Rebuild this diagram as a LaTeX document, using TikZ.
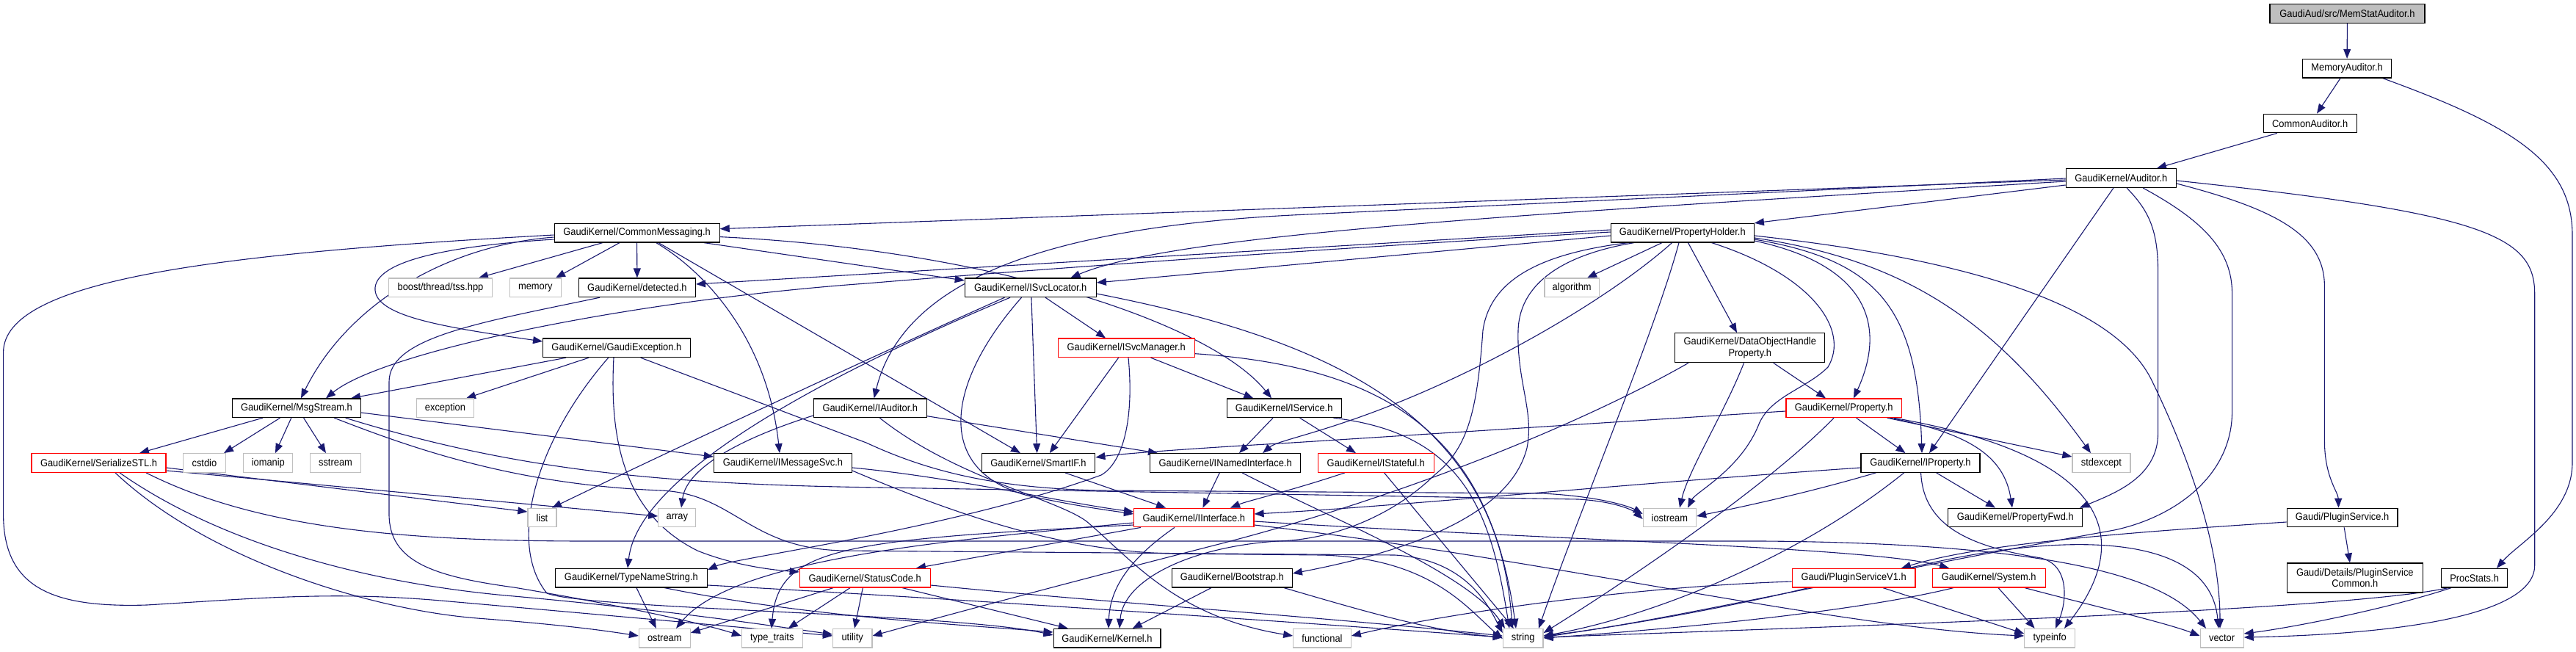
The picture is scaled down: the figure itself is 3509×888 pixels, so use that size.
\documentclass[tikz,border=0pt]{standalone}
\usepackage{fontspec}
\setmainfont{Liberation Sans}[FakeStretch=0.92]
\usetikzlibrary{arrows.meta,calc}
\definecolor{eblue}{HTML}{191970}
\definecolor{ggray}{HTML}{BFBFBF}
\definecolor{rred}{HTML}{FF0000}
\pgfdeclarelayer{bg}
\pgfsetlayers{bg,main}
\tikzset{
  nb/.style={draw=black, line width=0.6pt, rectangle, inner sep=0pt, minimum height=12.8pt, align=center, font=\fontsize{7}{7.8}\selectfont, fill=white},
  nr/.style={nb, draw=rred},
  ng/.style={nb, draw=ggray},
  nroot/.style={nb, fill=ggray},
  e/.style={draw=eblue, line width=0.55pt, -{Triangle[length=6.5pt,width=5pt]}},
}
\newcommand\bx[6]{\node[#1, minimum width=#5*0.5pt] (#2) at (#3,#4) {#6};}
\begin{document}
\begin{tikzpicture}[x=0.5pt,y=-0.5pt]
\useasboundingbox (0,0) rectangle (3509,888);
% nodes
\bx{nroot}{n0}{3197.4}{18.5}{211}{GaudiAud/src/MemStatAuditor.h}
\bx{nb}{memaud}{3197.1}{93.2}{121}{MemoryAuditor.h}
\bx{nb}{comaud}{3146.6}{168}{127}{CommonAuditor.h}
\bx{nb}{aud}{2889.3}{242.5}{150}{GaudiKernel/Auditor.h}
\bx{nb}{cmsg}{867.6}{317.2}{225}{GaudiKernel/CommonMessaging.h}
\bx{nb}{ph}{2291.8}{317.2}{195}{GaudiKernel/PropertyHolder.h}
\bx{ng}{boost}{600}{391.8}{141.5}{boost/thread/tss.hpp}
\bx{ng}{memory}{729.3}{391.8}{70}{memory}
\bx{nb}{detected}{867.9}{391.8}{159}{GaudiKernel/detected.h}
\bx{nb}{isvcloc}{1403.8}{391.8}{179}{GaudiKernel/ISvcLocator.h}
\bx{ng}{algorithm}{2141.2}{391.8}{74.6}{algorithm}
\bx{nb}{gexc}{839.9}{473.8}{200.5}{GaudiKernel/GaudiException.h}
\bx{nr}{isvcmgr}{1534.2}{473.8}{186}{GaudiKernel/ISvcManager.h}
\node[nb, minimum width=204*0.5pt, minimum height=20pt] (dohp) at (2383.8,473.7) {GaudiKernel/DataObjectHandle\\Property.h};
\bx{nb}{msg}{403.9}{555.8}{175}{GaudiKernel/MsgStream.h}
\bx{ng}{exception}{606.5}{555.8}{78.7}{exception}
\bx{nb}{iaud}{1185.3}{555.8}{154}{GaudiKernel/IAuditor.h}
\bx{nb}{isvc}{1749.2}{555.8}{156}{GaudiKernel/IService.h}
\bx{nr}{prop}{2511.7}{555.8}{157.6}{GaudiKernel/Property.h}
\bx{nr}{ser}{134.5}{630.5}{183}{GaudiKernel/SerializeSTL.h}
\bx{ng}{cstdio}{278.4}{630.5}{57.8}{cstdio}
\bx{ng}{iomanip}{365.3}{630.5}{67}{iomanip}
\bx{ng}{sstream}{457}{630.5}{69.3}{sstream}
\bx{nb}{imsg}{1066.4}{630.5}{188}{GaudiKernel/IMessageSvc.h}
\bx{nb}{smartif}{1414.5}{630.5}{154.6}{GaudiKernel/SmartIF.h}
\bx{nb}{inamed}{1669.1}{630.5}{205.4}{GaudiKernel/INamedInterface.h}
\bx{nr}{istate}{1874.3}{630.5}{157.6}{GaudiKernel/IStateful.h}
\bx{nb}{iprop}{2616}{630.5}{162}{GaudiKernel/IProperty.h}
\bx{ng}{stdexcept}{2862.4}{630.5}{79}{stdexcept}
\bx{ng}{list}{738.4}{705}{39}{list}
\bx{ng}{array}{922.3}{705}{51}{array}
\bx{nr}{iint}{1626.3}{705}{163.4}{GaudiKernel/IInterface.h}
\bx{ng}{iostream}{2274.4}{705}{72.3}{iostream}
\bx{nb}{pfwd}{2745.2}{705}{183}{GaudiKernel/PropertyFwd.h}
\bx{nb}{plug}{3190.6}{705}{150.7}{Gaudi/PluginService.h}
\bx{nb}{tns}{859.9}{787.2}{207}{GaudiKernel/TypeNameString.h}
\bx{nr}{sc}{1178.2}{787.2}{178}{GaudiKernel/StatusCode.h}
\bx{nb}{boot}{1678.3}{787.2}{164}{GaudiKernel/Bootstrap.h}
\bx{nr}{psv1}{2525.1}{787.2}{167.6}{Gaudi/PluginServiceV1.h}
\bx{nr}{sys}{2709.2}{787.2}{154}{GaudiKernel/System.h}
\bx{nb}{procstats}{3370.6}{787.2}{90.5}{ProcStats.h}
\node[nb, minimum width=185*0.5pt, minimum height=20pt] (pscommon) at (3207.8,787) {Gaudi/Details/PluginService\\Common.h};
\bx{ng}{ostream}{905.3}{869.2}{69.7}{ostream}
\bx{ng}{typetraits}{1051.8}{869.2}{82.6}{type\_traits}
\bx{ng}{utility}{1161.2}{869.2}{53.4}{utility}
\bx{nb}{kernel}{1508}{869.2}{145.8}{GaudiKernel/Kernel.h}
\bx{ng}{functional}{1801}{869.2}{78.5}{functional}
\bx{ng}{string}{2074.7}{869.2}{54.7}{string}
\bx{ng}{typeinfo}{2792.2}{869.2}{68.8}{typeinfo}
\bx{ng}{vector}{3026.6}{869.2}{59}{vector}
% edges
\begin{pgfonlayer}{bg}
\draw[e] (n0.south) -- (memaud.north);
\draw[e] (memaud.south -| 3188,0) -- (comaud.north -| 3156,0);
\draw[e] (memaud.south -| 3245.7,0) .. controls (3420,170) and (3504,220) .. (3504,320) -- (3504,630) .. controls (3504,700) and (3430,740) .. (procstats.north -| 3401,0);
\draw[e] (comaud.south -| 3102,0) -- (aud.north -| 2938,0);
% Auditor
\draw[e] (aud.west |- 0,245) -- (cmsg.east |- 0,311.7);
\draw[e] (aud.west |- 0,252) -- (ph.north east);
\draw[e] (aud.west |- 0,247) .. controls (2100,290) and (1600,318) .. (isvcloc.north -| 1458.5,0);
\draw[e] (aud.west |- 0,243) -- (1760,293) .. controls (1430,310) and (1230,380) .. (iaud.north -| 1190.6,0);
\draw[e] (aud.south -| 2879,0) -- (iprop.north -| 2628,0);
\draw[e] (aud.south -| 2897,0) .. controls (2925,285) and (2939.6,310) .. (2939.6,370) -- (2939.6,590) .. controls (2939.6,650) and (2880,672) .. (pfwd.north -| 2833,0);
\draw[e] (aud.east |- 0,250) .. controls (3100,285) and (3166.4,320) .. (3166.4,390) -- (3166.4,600) .. controls (3166.4,650) and (3185,670) .. (plug.north -| 3185.5,0);
\draw[e] (aud.east |- 0,246) .. controls (3380,290) and (3452.7,320) .. (3452.7,400) -- (3452.7,770) .. controls (3452.7,850) and (3200,865) .. (vector.east |- 0,868);
\draw[e] (aud.south -| 2919,0) .. controls (3000,300) and (3040.6,340) .. (3040.6,400) -- (3040.6,560) .. controls (3040.6,650) and (2960,705) .. (2880,722) .. controls (2500,790) and (2250,850) .. (string.east |- 0,866);
% CommonMessaging
\draw[e] (cmsg.south -| 821,0) -- (boost.north -| 652,0);
\draw[e] (cmsg.south -| 844,0) -- (memory.north -| 757,0);
\draw[e] (cmsg.south) -- (detected.north);
\draw[e] (cmsg.west |- 0,326) .. controls (640,333) and (515,350) .. (511,391.7) .. controls (508,430) and (600,445) .. (gexc.west |- 0,465);
\draw[e] (cmsg.west |- 0,323) .. controls (600,335) and (470,420) .. (msg.north -| 410,0);
\draw[e] (cmsg.west |- 0,320) .. controls (300,345) and (4.6,380) .. (4.6,480) -- (4.6,700) .. controls (4.6,800) and (70,828) .. (200,824) .. controls (350,815) and (450,805) .. (600,818) .. controls (850,840) and (1050,858) .. (utility.west |- 0,866);
\draw[e] (cmsg.south -| 893.8,0) .. controls (960,370) and (1045,460) .. (imsg.north -| 1062,0);
\draw[e] (cmsg.south -| 897,0) -- (smartif.north -| 1390,0);
\draw[e] (cmsg.east |- 0,322.6) .. controls (1350,340) and (1650,440) .. (isvc.north -| 1732,0);
\draw[e] (cmsg.south -| 958.8,0) -- (isvcloc.west |- 0,382);
% PropertyHolder
\draw[e] (ph.west |- 0,313) -- (detected.east |- 0,387);
\draw[e] (ph.west |- 0,321) -- (isvcloc.east |- 0,385);
\draw[e] (ph.west |- 0,316) .. controls (1700,345) and (1350,372) .. (1180,386) .. controls (850,410) and (520,480) .. (msg.north -| 444,0);
\draw[e] (ph.south -| 2264,0) -- (algorithm.north -| 2162,0);
\draw[e] (ph.south -| 2299.5,0) -- (dohp.north -| 2366,0);
\draw[e] (ph.east |- 0,328) .. controls (2540,360) and (2572,440) .. (prop.north -| 2525,0);
\draw[e] (ph.east |- 0,326) .. controls (2560,355) and (2612,420) .. (iprop.north -| 2618,0);
\draw[e] (ph.east |- 0,324) .. controls (2600,355) and (2720,440) .. (stdexcept.north -| 2848,0);
\draw[e] (ph.east |- 0,321) .. controls (2700,355) and (2885,420) .. (2932,520) .. controls (2995,650) and (3024,760) .. (vector.north -| 3024,0);
\draw[e] (ph.south -| 2218,0) .. controls (2100,345) and (2030,380) .. (2020,450) .. controls (2012,560) and (2000,610) .. (1954,647) .. controls (1900,700) and (1820,735) .. (1740,737) .. controls (1620,745) and (1530,790) .. (kernel.north -| 1525,0);
\draw[e] (ph.south -| 2226,0) .. controls (2140,345) and (2070,380) .. (2068,450) .. controls (2066,520) and (2090,560) .. (2080,610) .. controls (2060,690) and (1950,745) .. (boot.east |- 0,781);
\draw[e] (ph.south -| 2277.6,0) .. controls (2200,400) and (2050,490) .. (1900,550) .. controls (1800,590) and (1740,600) .. (inamed.north -| 1720,0);
\draw[e] (ph.south -| 2287,0) .. controls (2255,450) and (2150,700) .. (string.north -| 2096,0);
\draw[e] (ph.south -| 2331.5,0) .. controls (2470,375) and (2520,450) .. (2490,500) .. controls (2460,530) and (2410,540) .. (2395,580) .. controls (2370,640) and (2310,670) .. (iostream.north -| 2299,0);
% DataObjectHandleProperty
\draw[e] (dohp.south -| 2415.7,0) -- (prop.north -| 2487,0);
\draw[e] (dohp.south -| 2375.5,0) .. controls (2350,560) and (2300,640) .. (iostream.north -| 2288,0);
\draw[e] (dohp.south -| 2300,0) .. controls (2150,580) and (1900,680) .. (1653,743) .. controls (1450,795) and (1300,835) .. (utility.east |- 0,866);
% GaudiException
\draw[e] (gexc.south -| 802,0) -- (exception.north -| 635,0);
\draw[e] (gexc.south -| 771,0) -- (msg.north -| 478,0);
\draw[e] (gexc.south -| 836,0) .. controls (830,600) and (850,700) .. (950,750) .. controls (1000,770) and (1050,776) .. (sc.west |- 0,779);
\draw[e] (gexc.south -| 828.7,0) .. controls (730,600) and (690,740) .. (745,808) .. controls (800,830) and (1300,835) .. (kernel.west |- 0,865);
\draw[e] (gexc.south -| 872.7,0) -- (1180,603) .. controls (1260,640) and (1350,665) .. (1500,668) -- (2100,672) .. controls (2180,676) and (2220,690) .. (iostream.west |- 0,700);
% MsgStream
\draw[e] (msg.south -| 357.8,0) -- (ser.north -| 190,0);
\draw[e] (msg.south -| 381.5,0) -- (cstdio.north -| 305,0);
\draw[e] (msg.south -| 396.8,0) -- (iomanip.north -| 375,0);
\draw[e] (msg.south -| 413.6,0) -- (sstream.north -| 444,0);
\draw[e] (msg.east |- 0,562) -- (imsg.west |- 0,622);
\draw[e] (msg.south -| 470.6,0) .. controls (700,640) and (900,660) .. (1200,664) -- (2150,680) .. controls (2200,683) and (2225,695) .. (iostream.west |- 0,707);
\draw[e] (msg.south -| 455.3,0) .. controls (560,610) and (700,660) .. (900,668) .. controls (1000,672) and (1020,748) .. (1150,750) -- (1900,756) .. controls (2000,762) and (2030,830) .. (string.west |- 0,862);
% SerializeSTL
\draw[e] (ser.east |- 0,637) -- (list.west |- 0,697);
\draw[e] (ser.east |- 0,641) -- (array.west |- 0,703);
\draw[e] (ser.south -| 199,0) .. controls (350,720) and (550,737) .. (800,737) -- (2400,737) .. controls (2850,740) and (2960,800) .. (vector.north -| 3005,0);
\draw[e] (ser.south -| 163,0) .. controls (300,740) and (500,795) .. (700,812) .. controls (900,830) and (1050,852) .. (utility.west |- 0,864);
\draw[e] (ser.south -| 157,0) .. controls (280,760) and (500,830) .. (650,842) .. controls (780,852) and (830,860) .. (ostream.west |- 0,866);
% detected
\draw[e] (detected.south -| 817,0) .. controls (650,440) and (530,460) .. (530,520) -- (530,700) .. controls (530,765) and (590,785) .. (700,800) .. controls (850,825) and (960,850) .. (typetraits.west |- 0,866);
% IMessageSvc
\draw[e] (imsg.east |- 0,637) .. controls (1300,650) and (1450,685) .. (iint.west |- 0,697);
\draw[e] (imsg.east |- 0,641) .. controls (1300,700) and (1450,752) .. (1600,754) -- (1800,756) .. controls (1950,760) and (2000,830) .. (string.west |- 0,870);
% ISvcLocator
\draw[e] (isvcloc.south -| 1368.5,0) .. controls (1200,480) and (900,620) .. (list.north -| 752,0);
\draw[e] (isvcloc.south -| 1376,0) .. controls (1150,500) and (870,640) .. (tns.north -| 855,0);
\draw[e] (isvcloc.south -| 1391.5,0) .. controls (1290,520) and (1270,640) .. (1400,675) .. controls (1470,690) and (1510,695) .. (iint.west |- 0,700);
\draw[e] (isvcloc.south -| 1404.9,0) -- (smartif.north -| 1412.6,0);
\draw[e] (isvcloc.south -| 1424,0) -- (isvcmgr.north -| 1506,0);
\draw[e] (isvcloc.east |- 0,400) .. controls (1800,460) and (2040,560) .. (string.north -| 2060,0);
% ISvcManager
\draw[e] (isvcmgr.south -| 1523.6,0) -- (smartif.north -| 1429.8,0);
\draw[e] (isvcmgr.south -| 1567.6,0) -- (isvc.north -| 1707.3,0);
\draw[e] (isvcmgr.south -| 1537,0) .. controls (1545,570) and (1530,630) .. (1500,647) .. controls (1300,720) and (1000,760) .. (tns.east |- 0,776);
\draw[e] (isvcmgr.east |- 0,481.7) .. controls (1900,500) and (2030,600) .. (string.north -| 2065,0);
% IAuditor
\draw[e] (iaud.east |- 0,566.7) -- (inamed.north -| 1577,0);
\draw[e] (iaud.west |- 0,566) .. controls (1000,600) and (935,640) .. (array.north -| 928,0);
\draw[e] (iaud.south -| 1198.3,0) .. controls (1300,650) and (1440,680) .. (1480,710) .. controls (1540,760) and (1600,840) .. (functional.west |- 0,866);
% IService
\draw[e] (isvc.south -| 1734,0) -- (inamed.north -| 1688,0);
\draw[e] (isvc.south -| 1770.6,0) -- (istate.north -| 1847,0);
\draw[e] (isvc.south -| 1816.5,0) .. controls (1990,590) and (2030,690) .. (string.north -| 2056,0);
% SmartIF / INamedInterface / IStateful
\draw[e] (smartif.south -| 1450.8,0) -- (iint.north -| 1588,0);
\draw[e] (inamed.south -| 1661.3,0) -- (iint.north -| 1638.4,0);
\draw[e] (inamed.south -| 1692,0) .. controls (1800,700) and (2000,780) .. (string.north -| 2050,0);
\draw[e] (istate.south -| 1831.8,0) .. controls (1760,668) and (1700,682) .. (iint.north -| 1676,0);
\draw[e] (istate.south -| 1885.5,0) -- (string.north -| 2062,0);
% IInterface
\draw[e] (iint.south -| 1600,0) .. controls (1540,760) and (1512,800) .. (kernel.north -| 1510,0);
\draw[e] (iint.south -| 1554,0) -- (sc.north -| 1248,0);
\draw[e] (iint.west |- 0,712) .. controls (1300,735) and (1000,760) .. (ostream.north -| 921,0);
\draw[e] (iint.west |- 0,715) .. controls (1150,735) and (1060,745) .. (typetraits.north -| 1051,0);
\draw[e] (iint.east |- 0,710) .. controls (2100,735) and (2550,745) .. (sys.north -| 2655,0);
\draw[e] (iint.east |- 0,715) .. controls (2100,760) and (2500,855) .. (typeinfo.west |- 0,866);
% StatusCode
\draw[e] (sc.south -| 1175.3,0) -- (utility.north -| 1164,0);
\draw[e] (sc.south -| 1229,0) -- (kernel.north -| 1454.7,0);
\draw[e] (sc.south -| 1135,0) -- (ostream.east |- 0,862);
\draw[e] (sc.south -| 1158,0) -- (typetraits.north -| 1073.7,0);
\draw[e] (sc.east |- 0,797) .. controls (1500,820) and (1800,840) .. (string.west |- 0,866);
% TypeNameString
\draw[e] (tns.south -| 867,0) -- (ostream.north -| 893.8,0);
\draw[e] (tns.south -| 905.3,0) .. controls (1100,840) and (1300,850) .. (kernel.west |- 0,861);
\draw[e] (tns.east |- 0,797) .. controls (1300,815) and (1800,850) .. (string.west |- 0,868);
% Bootstrap
\draw[e] (boot.south -| 1650,0) -- (kernel.north -| 1542.7,0);
\draw[e] (boot.south -| 1749,0) .. controls (1850,830) and (1950,860) .. (string.west |- 0,868);
% PluginServiceV1
\draw[e] (psv1.west |- 0,792) .. controls (2200,800) and (1950,840) .. (functional.east |- 0,866);
\draw[e] (psv1.south -| 2463.5,0) .. controls (2300,840) and (2150,860) .. (string.east |- 0,868);
\draw[e] (psv1.south -| 2565,0) -- (typeinfo.west |- 0,863);
\draw[e] (psv1.north -| 2600,0) .. controls (2800,725) and (3010,720) .. (vector.north -| 3022,0);
% System
\draw[e] (sys.south -| 2722,0) -- (typeinfo.north -| 2771.6,0);
\draw[e] (sys.south -| 2758,0) .. controls (2850,825) and (2950,848) .. (vector.west |- 0,866);
\draw[e] (sys.south -| 2661,0) .. controls (2500,840) and (2200,862) .. (string.east |- 0,869);
% Property
\draw[e] (prop.south -| 2528.6,0) -- (iprop.north -| 2595.5,0);
\draw[e] (prop.south -| 2570.7,0) -- (stdexcept.west |- 0,622);
\draw[e] (prop.south -| 2575,0) .. controls (2680,590) and (2730,620) .. (pfwd.north -| 2741,0);
\draw[e] (prop.south -| 2580,0) .. controls (2870,620) and (2910,730) .. (typeinfo.north -| 2812,0);
\draw[e] (prop.west |- 0,560) -- (1760,603) .. controls (1600,612) and (1520,619) .. (smartif.east |- 0,623);
\draw[e] (prop.south -| 2498,0) .. controls (2420,650) and (2250,770) .. (string.east |- 0,862);
% IProperty
\draw[e] (iprop.south -| 2637.6,0) -- (pfwd.north -| 2718,0);
\draw[e] (iprop.west |- 0,637) .. controls (2200,660) and (1900,690) .. (iint.east |- 0,700);
\draw[e] (iprop.south -| 2555.4,0) .. controls (2450,675) and (2350,695) .. (iostream.east |- 0,703);
\draw[e] (iprop.south -| 2593.6,0) .. controls (2450,760) and (2250,840) .. (string.east |- 0,866);
\draw[e] (iprop.south -| 2616.6,0) .. controls (2620,720) and (2690,745) .. (2780,760) .. controls (2820,770) and (2815,820) .. (typeinfo.north -| 2800,0);
% ProcStats
\draw[e] (procstats.south -| 3339,0) .. controls (3250,830) and (3120,855) .. (vector.east |- 0,863);
\draw[e] (procstats.south -| 3335,0) .. controls (3200,830) and (2600,850) .. (string.east |- 0,868);
% PluginService
\draw[e] (plug.south -| 3193.2,0) -- (pscommon.north -| 3201,0);
\draw[e] (plug.west |- 0,711) .. controls (2900,725) and (2700,740) .. (psv1.north -| 2590,0);
\end{pgfonlayer}
\end{tikzpicture}
\end{document}
